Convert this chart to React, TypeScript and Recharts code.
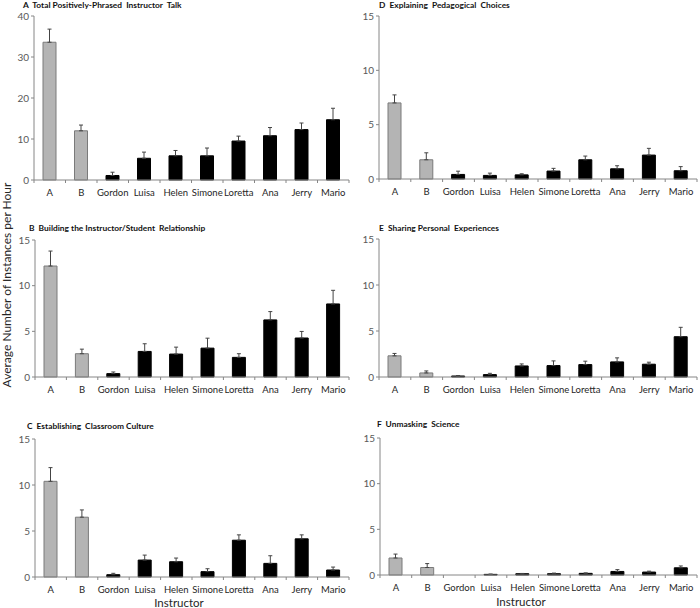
import React from 'react';
import { BarChart, Bar, XAxis, YAxis, ErrorBar, Cell } from 'recharts';

// instructors on the x axis; A and B are the comparison groups (grey bars)
const instructors = ['A', 'B', 'Gordon', 'Luisa', 'Helen', 'Simone', 'Loretta', 'Ana', 'Jerry', 'Mario'];
const comparison = ['A', 'B'];

// A  Total positively-phrased instructor talk
const totalTalk = [33.6, 12.0, 1.1, 5.3, 5.9, 5.9, 9.5, 10.8, 12.3, 14.7];
const totalTalkErr = [3.2, 1.4, 0.8, 1.5, 1.3, 1.9, 1.2, 2.0, 1.6, 2.8];

// B  Building the instructor/student relationship
const relationship = [12.15, 2.55, 0.37, 2.8, 2.51, 3.16, 2.15, 6.25, 4.27, 8.0];
const relationshipErr = [1.64, 0.5, 0.18, 0.84, 0.76, 1.09, 0.4, 0.91, 0.72, 1.49];

// C  Establishing classroom culture
const culture = [10.4, 6.5, 0.25, 1.84, 1.66, 0.58, 4.0, 1.48, 4.15, 0.76];
const cultureErr = [1.49, 0.79, 0.15, 0.54, 0.4, 0.32, 0.58, 0.83, 0.43, 0.32];

// D  Explaining pedagogical choices
const pedagogy = [7.0, 1.77, 0.42, 0.33, 0.38, 0.73, 1.77, 0.94, 2.2, 0.76];
const pedagogyErr = [0.74, 0.64, 0.3, 0.21, 0.1, 0.25, 0.34, 0.28, 0.62, 0.38];

// E  Sharing personal experiences
const personal = [2.3, 0.44, 0.11, 0.26, 1.2, 1.24, 1.35, 1.64, 1.39, 4.38];
const personalErr = [0.26, 0.22, 0.05, 0.14, 0.22, 0.51, 0.37, 0.44, 0.22, 1.02];

// F  Unmasking science
const unmasking = [1.86, 0.82, 0, 0.07, 0.14, 0.14, 0.18, 0.39, 0.32, 0.79];
const unmaskingErr = [0.43, 0.43, 0, 0.03, 0.03, 0.07, 0.05, 0.2, 0.1, 0.2];

const ticks40 = [0, 10, 20, 30, 40];
const ticks15 = [0, 5, 10, 15];

const FONT = 'Lato, "Open Sans", sans-serif';
const AXIS = '#868686';

const CategoryTick = (props: any) => {
  const { x, y, payload, index, visibleTicksCount, width } = props;
  const off = payload.offset ?? width / visibleTicksCount / 2;
  return (
    <g>
      <line x1={x - off} y1={y} x2={x - off} y2={y + 3} stroke={AXIS} />
      {index === visibleTicksCount - 1 && (
        <line x1={x + off} y1={y} x2={x + off} y2={y + 3} stroke={AXIS} />
      )}
      <text x={x} y={y + 15.5} textAnchor="middle" fontSize={9.5} fill="#262626" fontFamily={FONT}>
        {payload.value}
      </text>
    </g>
  );
};

type PanelProps = {
  title: string;
  values: number[];
  errs: number[];
  left: number;
  top: number;
  height: number;
  marginTop: number;
  yAxisWidth: number;
  marginRight: number;
  yMax: number;
  yTicks: number[];
  titleX: number;
  titleY: number;
};

const Panel = ({ title, values, errs, left, top, height, marginTop, yAxisWidth, marginRight, yMax, yTicks, titleX, titleY }: PanelProps) => {
  const data = instructors.map((name, i) => ({ name, value: values[i], err: [0, errs[i]] }));
  return (
    <>
      <div
        style={{
          position: 'absolute', left: titleX, top: titleY - 6, height: 12, lineHeight: '12px',
          fontSize: 8.4, fontWeight: 700, fontFamily: FONT, whiteSpace: 'pre', color: '#111',
        }}
      >
        {title}
      </div>
      <div style={{ position: 'absolute', left, top }}>
        <BarChart width={350} height={height} data={data} margin={{ top: marginTop, right: marginRight, bottom: 0, left: 0 }}>
          <XAxis
            dataKey="name"
            height={20}
            interval={0}
            tickLine={false}
            tickSize={0}
            tickMargin={0}
            stroke={AXIS}
            tick={<CategoryTick />}
          />
          <YAxis
            width={yAxisWidth}
            domain={[0, yMax]}
            ticks={yTicks}
            tickSize={3}
            tickMargin={2}
            stroke={AXIS}
            tick={{ fontSize: 10, fill: '#595959', fontFamily: FONT }}
          />
          <Bar dataKey="value" barSize={13} isAnimationActive={false}>
            {data.map((d) => (
              <Cell
                key={d.name}
                fill={comparison.includes(d.name) ? '#b4b4b4' : '#000000'}
                stroke={comparison.includes(d.name) ? '#7a7a7a' : '#000000'}
                strokeWidth={1}
              />
            ))}
            <ErrorBar dataKey="err" width={2} stroke="#444" strokeWidth={1} direction="y" isAnimationActive={false} />
          </Bar>
        </BarChart>
      </div>
    </>
  );
};

export default function App() {
  return (
    <div style={{ position: 'absolute', left: 0, top: 0, width: 700, height: 608, background: '#fff', fontFamily: FONT }}>
      <Panel title="A  Total Positively-Phrased  Instructor  Talk" values={totalTalk} errs={totalTalkErr}
        left={0} top={0} height={200} marginTop={16} yAxisWidth={34} marginRight={1} yMax={40} yTicks={ticks40} titleX={23} titleY={5} />
      <Panel title="B  Building the Instructor/Student  Relationship" values={relationship} errs={relationshipErr}
        left={0} top={220} height={177} marginTop={20} yAxisWidth={35} marginRight={1} yMax={15} yTicks={ticks15} titleX={29} titleY={228} />
      <Panel title="C  Establishing  Classroom Culture" values={culture} errs={cultureErr}
        left={0} top={420} height={177} marginTop={19} yAxisWidth={35} marginRight={1} yMax={15} yTicks={ticks15} titleX={27} titleY={426} />
      <Panel title="D  Explaining  Pedagogical  Choices" values={pedagogy} errs={pedagogyErr}
        left={350} top={0} height={199} marginTop={16} yAxisWidth={29} marginRight={3} yMax={15} yTicks={ticks15} titleX={379} titleY={5} />
      <Panel title="E  Sharing Personal  Experiences" values={personal} errs={personalErr}
        left={350} top={220} height={177} marginTop={19} yAxisWidth={29} marginRight={3} yMax={15} yTicks={ticks15} titleX={379} titleY={228} />
      <Panel title="F  Unmasking  Science" values={unmasking} errs={unmaskingErr}
        left={350} top={420} height={175} marginTop={18} yAxisWidth={30} marginRight={3} yMax={15} yTicks={ticks15} titleX={377} titleY={424} />

      <div
        style={{
          position: 'absolute', left: 7, top: 285, transform: 'translate(-50%, -50%) rotate(-90deg)',
          whiteSpace: 'nowrap', fontSize: 12, lineHeight: '12px', color: '#262626', fontFamily: FONT,
        }}
      >
        Average Number of Instances per Hour
      </div>
      <div style={{ position: 'absolute', left: 179, top: 603, transform: 'translate(-50%, -50%)', fontSize: 11.5, lineHeight: '12px', color: '#262626', fontFamily: FONT }}>
        Instructor
      </div>
      <div style={{ position: 'absolute', left: 521, top: 602, transform: 'translate(-50%, -50%)', fontSize: 11.5, lineHeight: '12px', color: '#262626', fontFamily: FONT }}>
        Instructor
      </div>
    </div>
  );
}
